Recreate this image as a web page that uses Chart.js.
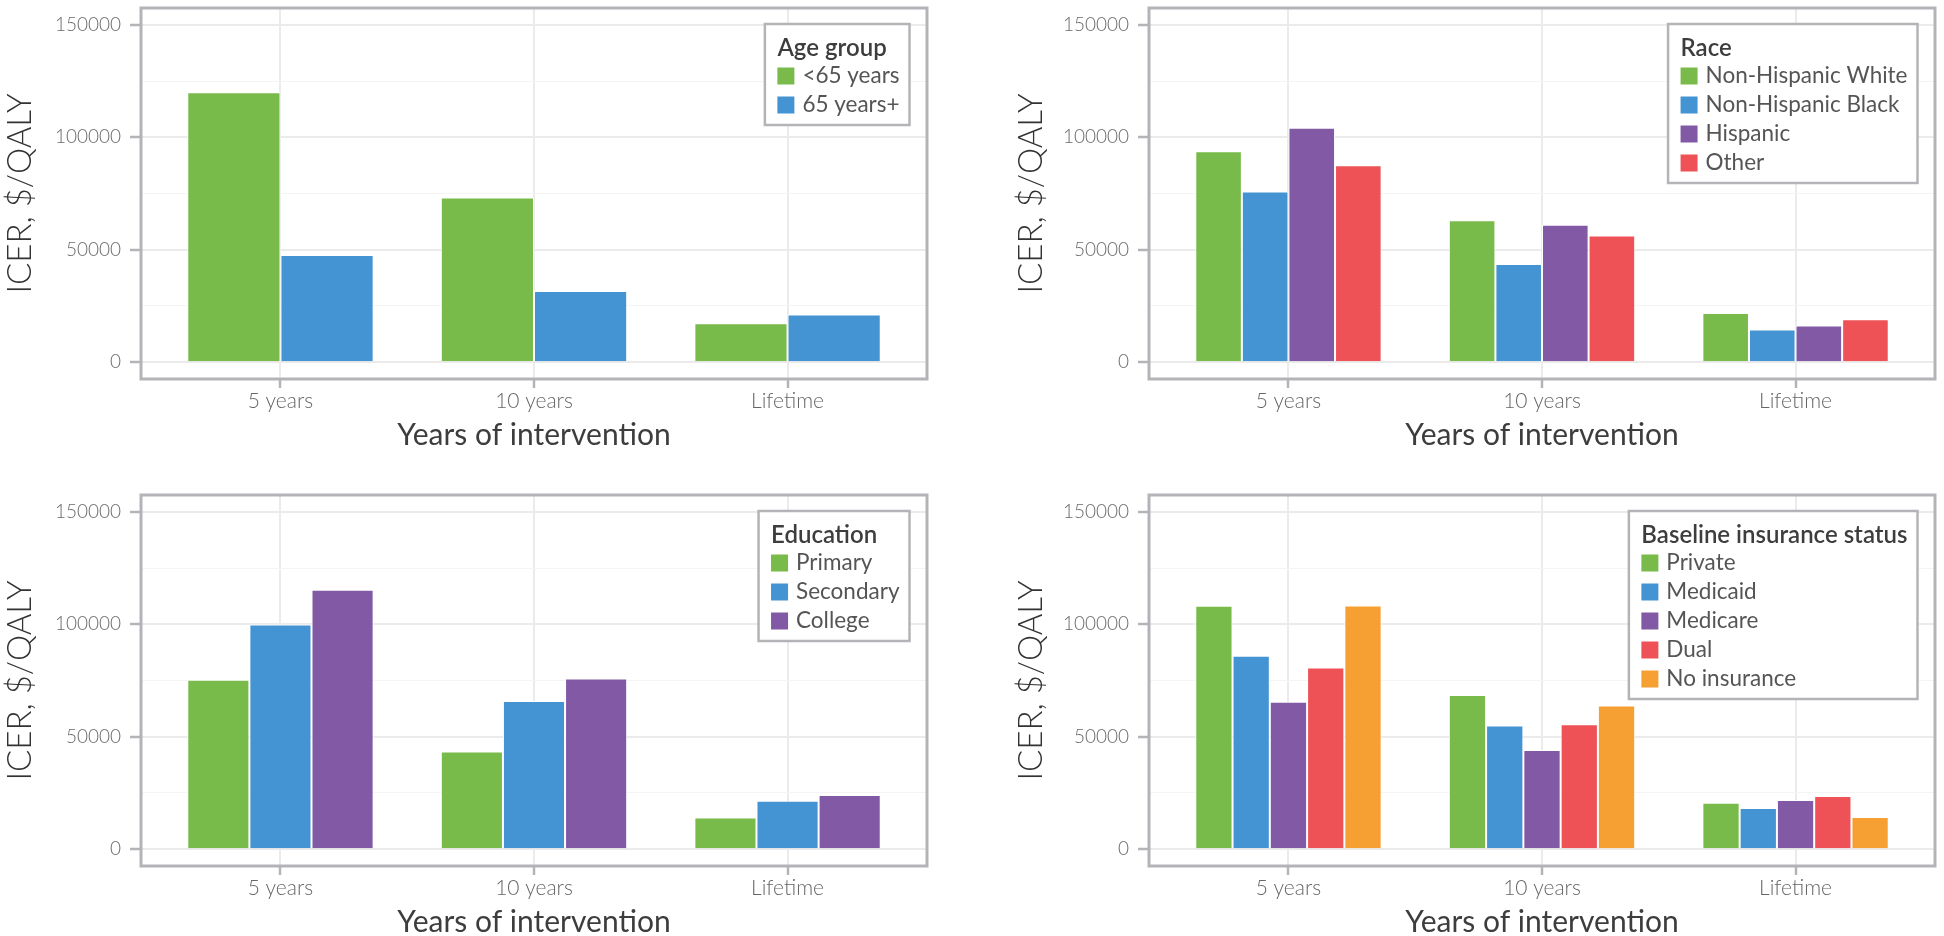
<!DOCTYPE html>
<html>
<head>
<meta charset="utf-8">
<script src="https://cdn.jsdelivr.net/npm/chart.js@4.4.1/dist/chart.umd.min.js"></script>
<style>
  html, body { margin: 0; padding: 0; overflow: hidden; background: #fff; width: 1944px; height: 936px; }
  canvas { position: absolute; }
</style>
</head>
<body>
<canvas id="cAge" width="972" height="487" style="left:0;top:0"></canvas>
<canvas id="cRace" width="972" height="487" style="left:972px;top:0"></canvas>
<canvas id="cEdu" width="972" height="487" style="left:0;top:487px"></canvas>
<canvas id="cIns" width="972" height="487" style="left:972px;top:487px"></canvas>
<script>
// categories + tick values
const periods = ['5 years', '10 years', 'Lifetime'];
const yTickValues = [0, 25000, 50000, 75000, 100000, 125000, 150000];
const labelledTicks = [0, 50000, 100000, 150000];

// age group
const ageLabels = ['<65 years', '65 years+'];
const ageUnder65 = [120000, 73200, 17300];
const age65plus = [47600, 31600, 21200];

// race
const raceLabels = ['Non-Hispanic White', 'Non-Hispanic Black', 'Hispanic', 'Other'];
const nhWhite = [93800, 63100, 21900];
const nhBlack = [75900, 43700, 14500];
const hispanic = [104200, 61100, 16300];
const otherRace = [87600, 56300, 19100];

// education
const eduLabels = ['Primary', 'Secondary', 'College'];
const primary = [75300, 43400, 14100];
const secondary = [99950, 65900, 21500];
const college = [115400, 75900, 24100];

// baseline insurance status
const insLabels = ['Private', 'Medicaid', 'Medicare', 'Dual', 'No insurance'];
const privateIns = [108300, 68600, 20600];
const medicaid = [86000, 55000, 18300];
const medicare = [65500, 44100, 21800];
const dual = [80800, 55500, 23600];
const noInsurance = [108400, 63900, 14300];

const palette = ['#79BB4A', '#4493D2', '#8259A4', '#EE5257', '#F69F32'];

const frameColor = '#B4B4B8';
const legendTitleFont = '600 24px Lato';
const legendFont = '22.5px Lato';

// panel border + legend box (ggplot style)
const panelFrame = {
  id: 'panelFrame',
  afterDraw(chart, args, opts) {
    const ctx = chart.ctx;
    const a = chart.chartArea;
    ctx.save();
    ctx.strokeStyle = frameColor;
    ctx.lineWidth = 3;
    ctx.strokeRect(a.left, a.top, a.right - a.left, a.bottom - a.top);

    const sets = chart.data.datasets;
    ctx.font = legendTitleFont;
    const titleW = ctx.measureText(opts.title).width;
    ctx.font = legendFont;
    let labelW = 0;
    sets.forEach(d => { labelW = Math.max(labelW, ctx.measureText(d.label).width); });
    const w = Math.max(titleW, 25 + labelW) + 12.5 + 10;
    const h = 52 + (sets.length - 1) * 29 + 20;
    const right = a.right - 17.5, top = a.top + 16;
    const left = right - w;
    ctx.fillStyle = '#fff';
    ctx.fillRect(left, top, w, h);
    ctx.lineWidth = 2.5;
    ctx.strokeRect(left, top, w, h);

    ctx.textBaseline = 'middle';
    ctx.textAlign = 'left';
    ctx.fillStyle = '#3d3d3d';
    ctx.font = legendTitleFont;
    ctx.fillText(opts.title, left + 12.5, top + 24);
    ctx.font = legendFont;
    sets.forEach((d, i) => {
      const cy = top + 52 + i * 29;
      ctx.fillStyle = d.backgroundColor;
      ctx.fillRect(left + 12.5, cy - 8.5, 17, 17);
      ctx.fillStyle = '#555';
      ctx.fillText(d.label, left + 37.5, cy);
    });
    ctx.restore();
  }
};

function makePanel(id, title, labels, series, yWidth, titlePad, rightPad) {
  const datasets = series.map((vals, i) => ({
    label: labels[i],
    data: vals.map((v, j) => ({ x: j + 1, y: v })),
    backgroundColor: palette[i],
    borderColor: '#fff',
    borderWidth: 1,
    categoryPercentage: 0.735,
    barPercentage: 1
  }));
  const isMajor = c => c.tick && labelledTicks.includes(c.tick.value);
  new Chart(document.getElementById(id), {
    type: 'bar',
    data: { datasets },
    plugins: [panelFrame],
    options: {
      responsive: false,
      animation: false,
      devicePixelRatio: 1,
      layout: { padding: { top: 8, right: rightPad, left: 0, bottom: 0 } },
      plugins: {
        legend: { display: false },
        tooltip: { enabled: false },
        panelFrame: { title: title }
      },
      scales: {
        x: {
          type: 'linear',
          offset: false,
          min: 0.45,
          max: 3.55,
          afterBuildTicks: s => { s.ticks = periods.map((p, i) => ({ value: i + 1 })); },
          afterFit: s => { s.height = 108; s.paddingLeft = 0; s.paddingRight = 0; },
          ticks: {
            callback: v => periods[v - 1],
            font: { family: 'Lato', size: 21, weight: '300' },
            color: '#666',
            padding: 1,
            maxRotation: 0,
            autoSkip: false
          },
          grid: { offset: false, color: '#EBEBEB', lineWidth: 2, tickColor: frameColor, tickLength: 9, tickWidth: 2.5 },
          border: { display: false },
          title: {
            display: true,
            text: 'Years of intervention',
            font: { family: 'Lato', size: 30 },
            color: '#3d3d3d',
            padding: { top: 0, bottom: 34 }
          }
        },
        y: {
          min: -7500,
          max: 157500,
          afterBuildTicks: s => { s.ticks = yTickValues.map(v => ({ value: v })); },
          afterFit: s => { s.width = yWidth; s.paddingTop = 0; s.paddingBottom = 0; },
          ticks: {
            callback: v => labelledTicks.includes(v) ? String(v) : '',
            font: { family: 'Lato', size: 19, weight: '300' },
            color: '#6a6a6a',
            padding: 9
          },
          grid: {
            color: c => isMajor(c) ? '#EBEBEB' : '#F4F4F4',
            lineWidth: c => isMajor(c) ? 2 : 1,
            tickColor: c => isMajor(c) ? frameColor : 'rgba(0,0,0,0)',
            tickLength: 11,
            tickWidth: 2.5
          },
          border: { display: false },
          title: {
            display: true,
            text: 'ICER, $/QALY',
            font: { family: 'Lato', size: 33, weight: '300' },
            color: '#333',
            padding: { top: titlePad, bottom: 0 }
          }
        }
      }
    }
  });
}

Promise.all([
  document.fonts.load('300 21px Lato'),
  document.fonts.load('22.5px Lato'),
  document.fonts.load('600 24px Lato')
]).catch(() => {}).then(() => {
  makePanel('cAge', 'Age group', ageLabels, [ageUnder65, age65plus], 141, 1, 45);
  makePanel('cRace', 'Race', raceLabels, [nhWhite, nhBlack, hispanic, otherRace], 177, 40, 9);
  makePanel('cEdu', 'Education', eduLabels, [primary, secondary, college], 141, 1, 45);
  makePanel('cIns', 'Baseline insurance status', insLabels, [privateIns, medicaid, medicare, dual, noInsurance], 177, 40, 9);
});
</script>
</body>
</html>
